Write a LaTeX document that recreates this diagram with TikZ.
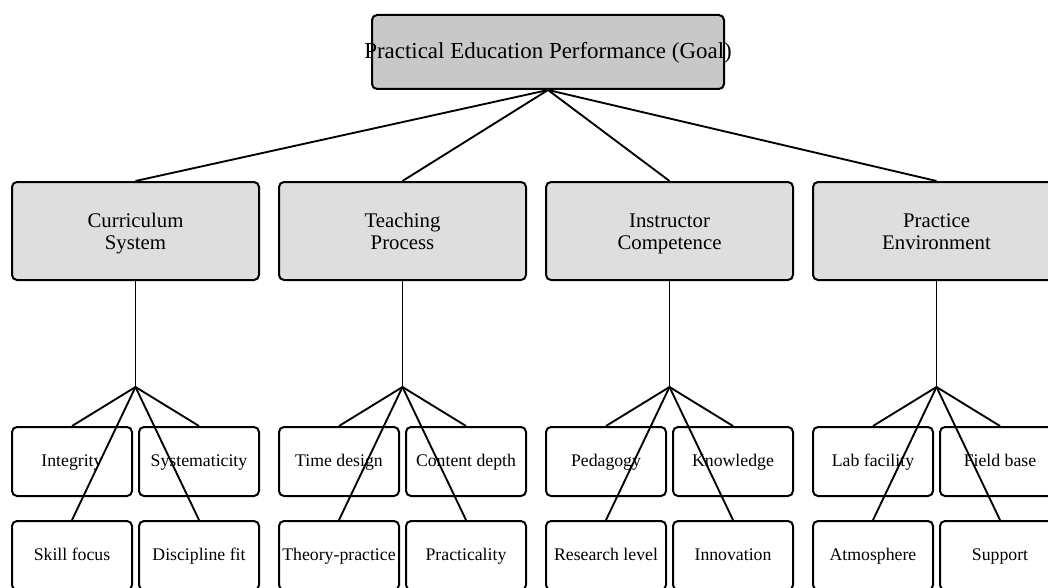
\documentclass[tikz,border=0pt]{standalone}
\usepackage{fontspec}
\setmainfont{Liberation Serif}

\newcommand{\twoline}[2]{\rule{0pt}{16pt}#1\\\strut#2}

\tikzset{
  goalbox/.style={draw, line width=1.5pt, rounded corners=3.75pt, fill={rgb,255:red,200;green,200;blue,200},
    minimum width=264pt, minimum height=55.5pt, inner sep=0pt, text height=2.1ex, text depth=0ex,
    font=\fontsize{17.2}{19}\selectfont},
  critbox/.style={draw, line width=1.5pt, rounded corners=3.75pt, fill={rgb,255:red,222;green,222;blue,222},
    minimum width=185.25pt, minimum height=73.5pt, inner sep=0pt, align=center, font=\fontsize{15.6}{16.5}\selectfont},
  subbox/.style={draw, line width=1.5pt, rounded corners=3.75pt, fill=white,
    minimum width=90pt, minimum height=51.75pt, inner sep=0pt, text height=1.6ex, text depth=0ex,
    font=\fontsize{13.3}{15}\selectfont},
  link/.style={line width=1.4pt}
}

\begin{document}
\begin{tikzpicture}[x=0.75pt,y=0.75pt,yscale=-1,xscale=1]
\clip (0,0) rectangle (1048,588);

%Goal
\node[goalbox] (goal) at (548,52) {\makebox[0pt]{Practical Education Performance (Goal)}};

%Criteria
\node[critbox] (curr) at (135.5,231) {\twoline{Curriculum}{System}};
\node[critbox] (teach) at (402.5,231) {\twoline{Teaching}{Process}};
\node[critbox] (instr) at (669.5,231) {\twoline{Instructor}{Competence}};
\node[critbox] (envi) at (936.5,231) {\twoline{Practice}{Environment}};

%Hubs
\coordinate (hcurr) at (135.5,387);
\coordinate (hteach) at (402.5,387);
\coordinate (hinstr) at (669.5,387);
\coordinate (henvi) at (936.5,387);

%Sub-criteria, Curriculum System
\node[subbox] (integ) at (72,461.5) {Integrity};
\node[subbox] (syst) at (199,461.5) {Systematicity};
\node[subbox] (skill) at (72,555.5) {Skill focus};
\node[subbox] (disc) at (199,555.5) {Discipline fit};
%Sub-criteria, Teaching Process
\node[subbox] (time) at (339,461.5) {Time design};
\node[subbox] (cont) at (466,461.5) {Content depth};
\node[subbox] (theo) at (339,555.5) {\makebox[0pt]{Theory-practice}};
\node[subbox] (prac) at (466,555.5) {Practicality};
%Sub-criteria, Instructor Competence
\node[subbox] (peda) at (606,461.5) {Pedagogy};
\node[subbox] (know) at (733,461.5) {Knowledge};
\node[subbox] (rese) at (606,555.5) {Research level};
\node[subbox] (inno) at (733,555.5) {Innovation};
%Sub-criteria, Practice Environment
\node[subbox] (lab) at (873,461.5) {Lab facility};
\node[subbox] (field) at (1000,461.5) {Field base};
\node[subbox] (atmo) at (873,555.5) {Atmosphere};
\node[subbox] (supp) at (1000,555.5) {Support};

%Goal to criteria
\draw[link] (goal.south) -- (curr.north);
\draw[link] (goal.south) -- (teach.north);
\draw[link] (goal.south) -- (instr.north);
\draw[link] (goal.south) -- (envi.north);

%Criteria to hubs
\draw[link] (curr.south) -- (hcurr);
\draw[link] (teach.south) -- (hteach);
\draw[link] (instr.south) -- (hinstr);
\draw[link] (envi.south) -- (henvi);

%Hubs to sub-criteria
\draw[link] (hcurr) -- (integ.north);
\draw[link] (hcurr) -- (syst.north);
\draw[link] (hcurr) -- (skill.north);
\draw[link] (hcurr) -- (disc.north);
\draw[link] (hteach) -- (time.north);
\draw[link] (hteach) -- (cont.north);
\draw[link] (hteach) -- (theo.north);
\draw[link] (hteach) -- (prac.north);
\draw[link] (hinstr) -- (peda.north);
\draw[link] (hinstr) -- (know.north);
\draw[link] (hinstr) -- (rese.north);
\draw[link] (hinstr) -- (inno.north);
\draw[link] (henvi) -- (lab.north);
\draw[link] (henvi) -- (field.north);
\draw[link] (henvi) -- (atmo.north);
\draw[link] (henvi) -- (supp.north);

\end{tikzpicture}
\end{document}
